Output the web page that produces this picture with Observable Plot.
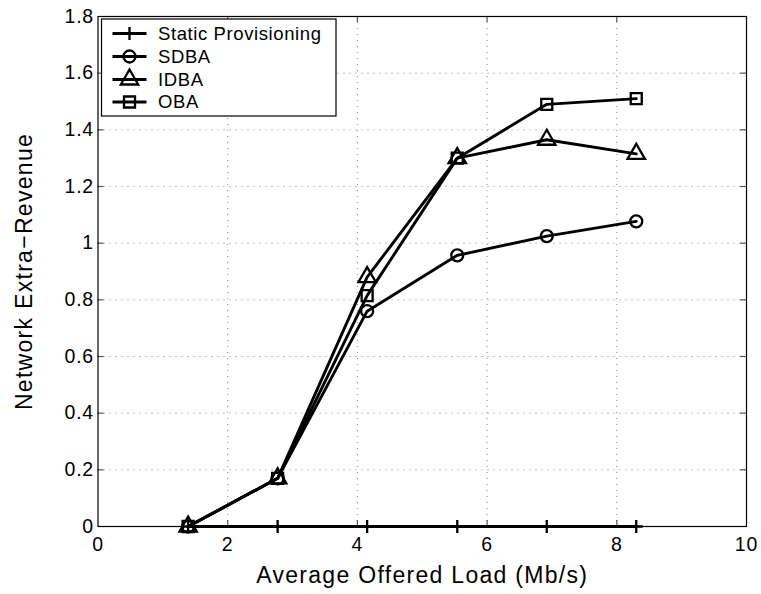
<!DOCTYPE html>
<html>
<head>
<meta charset="utf-8">
<script src="https://cdn.jsdelivr.net/npm/d3@7"></script>
<script src="https://cdn.jsdelivr.net/npm/@observablehq/plot@0.6"></script>
<style>
  html, body { margin: 0; padding: 0; background: #fff; }
  #chart { position: relative; width: 761px; height: 594px; }
</style>
</head>
<body>
<div id="chart"></div>
<script>
// ---- data ----
const loads = [1.39, 2.77, 4.15, 5.54, 6.92, 8.30];
const staticProvisioning = [0, 0, 0, 0, 0, 0];
const sdba = [0, 0.17, 0.76, 0.957, 1.025, 1.077];
const idba = [0, 0.17, 0.88, 1.30, 1.365, 1.315];
const oba  = [0, 0.17, 0.815, 1.30, 1.49, 1.51];

const seriesNames = ["Static Provisioning", "SDBA", "IDBA", "OBA"];
const seriesSymbols = ["plus", "circle", "triangle2", "square2"];
const seriesR = [4.3, 6, 8.3, 7];

const xTicks = [0, 2, 4, 6, 8, 10];
const yTicks = [0, 0.2, 0.4, 0.6, 0.8, 1, 1.2, 1.4, 1.6, 1.8];
const xTickLabels = ["0", "2", "4", "6", "8", "10"];
const yTickLabels = ["0", "0.2", "0.4", "0.6", "0.8", "1", "1.2", "1.4", "1.6", "1.8"];
const xLabel = "Average Offered Load (Mb/s)";
const yLabel = "Network Extra\u2212Revenue";

// ---- build rows ----
const allValues = [staticProvisioning, sdba, idba, oba];
const rows = allValues.map((vals, i) =>
  loads.map((x, j) => ({ x, y: vals[j], series: seriesNames[i] }))
);

const xInner = xTicks.slice(1, -1);
const yInner = yTicks.slice(1, -1);
const tickLenY = 6 * 1.8 / 510;   // ~6px in y units
const tickLenX = 6 * 10 / 648.5;  // ~6px in x units

const font = "'Liberation Sans', Arial, Helvetica, sans-serif";

const marks = [
  // dotted grid
  Plot.ruleX(xInner, { x: d => d, stroke: "#888", strokeWidth: 1, strokeDasharray: "1,5" }),
  Plot.ruleY(yInner, { y: d => d, stroke: "#888", strokeWidth: 1, strokeDasharray: "1,5" }),
  // inward ticks on all four sides
  Plot.ruleX(xInner, { x: d => d, y1: 0, y2: tickLenY, stroke: "#555", strokeWidth: 1.2 }),
  Plot.ruleX(xInner, { x: d => d, y1: 1.8, y2: 1.8 - tickLenY, stroke: "#555", strokeWidth: 1.2 }),
  Plot.ruleY(yInner, { y: d => d, x1: 0, x2: tickLenX, stroke: "#555", strokeWidth: 1.2 }),
  Plot.ruleY(yInner, { y: d => d, x1: 10, x2: 10 - tickLenX, stroke: "#555", strokeWidth: 1.2 }),
  Plot.frame({ stroke: "#000", strokeWidth: 1.2 }),
  // tick labels
  Plot.text(xTicks, { x: d => d, frameAnchor: "bottom", dy: 18, text: (d, i) => xTickLabels[i], fontSize: 19.5, textAnchor: "middle", lineAnchor: "middle", fill: "#000" }),
  Plot.text(yTicks, { y: d => d, frameAnchor: "left", dx: -4, text: (d, i) => yTickLabels[i], fontSize: 19.5, textAnchor: "end", lineAnchor: "middle", fill: "#000" }),
  // axis titles
  Plot.text([xLabel], { frameAnchor: "bottom", dy: 49, text: d => d, fontSize: 23, textAnchor: "middle", lineAnchor: "middle", fill: "#000" }),
  Plot.text([yLabel], { frameAnchor: "left", dx: -73, rotate: -90, text: d => d, fontSize: 23, textAnchor: "middle", lineAnchor: "middle", fill: "#000" })
];

rows.forEach((data, i) => {
  marks.push(Plot.line(data, { x: "x", y: "y", stroke: "#000", strokeWidth: 2.9, strokeLinejoin: "round" }));
  marks.push(Plot.dot(data, { x: "x", y: "y", symbol: () => seriesSymbols[i], r: seriesR[i], stroke: "#000", strokeWidth: 2.3, fill: "none" }));
});

const chart = Plot.plot({
  width: 761,
  height: 594,
  marginLeft: 97.5,
  marginRight: 15,
  marginTop: 16,
  marginBottom: 68,
  style: { fontFamily: font, color: "#000", background: "#fff", overflow: "visible" },
  x: { domain: [0, 10], axis: null },
  y: { domain: [0, 1.8], axis: null },
  symbol: { domain: seriesSymbols, range: seriesSymbols },
  marks
});

document.getElementById("chart").appendChild(chart);

// letter-spacing on text to approximate the wider reference typeface
const svg = d3.select(chart);
svg.selectAll("text").each(function () {
  const fs = +(this.getAttribute("font-size") || (this.parentNode && this.parentNode.getAttribute("font-size")) || 0);
  const ls = fs >= 22 ? 1.3 : 0.8;
  this.style.letterSpacing = ls + "px";
});

// ---- legend inside the plot (top-left) ----
const lg = svg.append("g").attr("transform", "translate(101.5,19)");
lg.append("rect").attr("width", 234.5).attr("height", 97)
  .attr("fill", "#fff").attr("stroke", "#000").attr("stroke-width", 1.2);
const symbolTypes = [d3.symbolPlus, d3.symbolCircle, d3.symbolTriangle2, d3.symbolSquare2];
const rowY = [14.5, 37.5, 60.5, 83];
seriesNames.forEach((name, i) => {
  const g = lg.append("g").attr("transform", `translate(0,${rowY[i]})`);
  g.append("line").attr("x1", 11).attr("x2", 45).attr("y1", 0).attr("y2", 0)
    .attr("stroke", "#000").attr("stroke-width", 2.9);
  g.append("path")
    .attr("transform", "translate(28,0)")
    .attr("d", d3.symbol(symbolTypes[i], Math.PI * seriesR[i] * seriesR[i])())
    .attr("fill", "none").attr("stroke", "#000").attr("stroke-width", 2.3);
  g.append("text").attr("x", 56.5).attr("y", 0).attr("dy", "0.35em")
    .attr("text-anchor", "start")
    .style("font-family", font).style("font-size", "18.5px").style("letter-spacing", "0.6px")
    .attr("fill", "#000")
    .text(name);
});
</script>
</body>
</html>
